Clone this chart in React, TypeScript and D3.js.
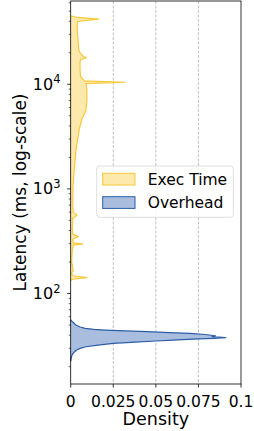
import React, { useEffect, useRef } from "react";
import * as d3 from "d3";

// latency (ms) / density pairs, top to bottom
const execLatency = [45000, 43500, 42000, 39800, 37000, 30000, 24000, 21000, 19500, 18500, 17900, 17300, 16500, 14000, 11800, 10800, 10450, 10150, 9600, 8800, 7100, 5700, 4600, 3700, 2400, 1500, 1000, 700, 600, 560, 520, 420, 370, 350, 330, 305, 298, 290, 240, 200, 175, 165, 158, 148, 142, 137, 133];
const execDensity = [0, 0.004, 0.0165, 0.004, 0.0038, 0.004, 0.0045, 0.0048, 0.006, 0.0075, 0.009, 0.006, 0.0055, 0.0055, 0.0058, 0.008, 0.032, 0.009, 0.0092, 0.0095, 0.0095, 0.009, 0.0065, 0.005, 0.0032, 0.002, 0.0013, 0.0012, 0.0015, 0.0037, 0.0012, 0.001, 0.0013, 0.0045, 0.0012, 0.0015, 0.007, 0.0014, 0.0008, 0.0006, 0.0012, 0.0015, 0.0006, 0.001, 0.0094, 0.001, 0];

const overLatency = [56, 53.4, 50, 47.9, 46.5, 45.5, 44.8, 43.9, 43.2, 42.3, 41.7, 40.6, 39.5, 38.7, 38.2, 37.8, 37.3, 36.8, 36.3, 35.8, 35.2, 34.4, 33.4, 32.2, 31, 29.9, 28.9, 27.5, 25.9, 24, 22.5];
const overDensity = [0, 0.0012, 0.003, 0.0055, 0.0085, 0.0135, 0.02, 0.032, 0.045, 0.058, 0.07, 0.079, 0.085, 0.083, 0.089, 0.0912, 0.084, 0.075, 0.066, 0.06, 0.05, 0.038, 0.025, 0.016, 0.009, 0.0055, 0.0035, 0.002, 0.0008, 0.0003, 0];

const xTicks = [0, 0.025, 0.05, 0.075, 0.1];
const xTickLabels = ["0", "0.025", "0.05", "0.075", "0.1"];
const yTicks = [100, 1000, 10000];
const yTickExp = ["2", "3", "4"];

const seriesNames = ["Exec Time", "Overhead"];
const seriesFill = ["#fde9ac", "#a9bedf"];
const seriesEdge = ["#f9c93a", "#2c5ca8"];

export default function App() {
    const ref = useRef<SVGSVGElement>(null);

    useEffect(() => {
        const svg = d3.select(ref.current);
        svg.selectAll("*").remove();

        const left = 70.7, right = 241, top = 1, bottom = 384;
        const font = "DejaVu Sans";

        const x = d3.scaleLinear().domain([0, 0.1]).range([left, right]);
        const y = d3.scaleLog().domain([13.66, 62500]).range([bottom, top]);

        // dashed grid
        svg.append("g")
            .selectAll("line")
            .data(xTicks.slice(1, -1))
            .enter().append("line")
            .attr("x1", d => x(d)).attr("x2", d => x(d))
            .attr("y1", top).attr("y2", bottom)
            .attr("stroke", "#b0b0b0")
            .attr("stroke-width", 0.8)
            .attr("stroke-dasharray", "3,1.5");

        const series = [
            { lat: execLatency, den: execDensity },
            { lat: overLatency, den: overDensity },
        ];

        series.forEach((s, k) => {
            const pts = s.lat.map((l, i) => [l, s.den[i]] as [number, number]);
            const area = d3.area<[number, number]>()
                .y(d => y(d[0]))
                .x0(x(0))
                .x1(d => x(d[1]));
            const line = d3.line<[number, number]>()
                .x(d => x(d[1]))
                .y(d => y(d[0]));
            svg.append("path")
                .attr("d", area(pts))
                .attr("fill", seriesFill[k]);
            svg.append("path")
                .attr("d", line(pts))
                .attr("fill", "none")
                .attr("stroke", seriesEdge[k])
                .attr("stroke-width", 1.2)
                .attr("stroke-linejoin", "round");
        });

        // frame
        svg.append("rect")
            .attr("x", left).attr("y", top)
            .attr("width", right - left).attr("height", bottom - top)
            .attr("fill", "none")
            .attr("stroke", "#000")
            .attr("stroke-width", 0.8);

        // x ticks
        const xt = svg.append("g");
        xTicks.forEach((t, i) => {
            xt.append("line")
                .attr("x1", x(t)).attr("x2", x(t))
                .attr("y1", bottom).attr("y2", bottom + 3.5)
                .attr("stroke", "#000").attr("stroke-width", 0.8);
            xt.append("text")
                .attr("x", x(t)).attr("y", 406.5)
                .attr("text-anchor", "middle")
                .attr("font-family", font).attr("font-size", 15.5)
                .text(xTickLabels[i]);
        });

        // y ticks, major and minor
        const yt = svg.append("g");
        const [lo, hi] = y.domain();
        for (let e = 1; e <= 4; e++) {
            for (let m = 1; m < 10; m++) {
                const v = m * Math.pow(10, e);
                if (v < lo || v > hi) continue;
                yt.append("line")
                    .attr("x1", left).attr("x2", left - (m === 1 ? 3.5 : 2))
                    .attr("y1", y(v)).attr("y2", y(v))
                    .attr("stroke", "#000")
                    .attr("stroke-width", m === 1 ? 0.8 : 0.6);
            }
        }
        yTicks.forEach((t, i) => {
            const txt = yt.append("text")
                .attr("x", 60.5).attr("y", y(t) + 5.5)
                .attr("text-anchor", "end")
                .attr("font-family", font).attr("font-size", 16);
            txt.append("tspan").text("10");
            txt.append("tspan")
                .attr("dy", -6.5)
                .attr("font-size", 11.5)
                .text(yTickExp[i]);
        });

        // axis labels
        svg.append("text")
            .attr("x", (left + right) / 2).attr("y", 425)
            .attr("text-anchor", "middle")
            .attr("font-family", font).attr("font-size", 17.5)
            .text("Density");
        svg.append("text")
            .attr("transform", `translate(26,${(top + bottom) / 2}) rotate(-90)`)
            .attr("text-anchor", "middle")
            .attr("font-family", font).attr("font-size", 17)
            .text("Latency (ms, log-scale)");

        // legend
        const lg = svg.append("g");
        lg.append("rect")
            .attr("x", 96.7).attr("y", 166)
            .attr("width", 136.6).attr("height", 51.3)
            .attr("rx", 3)
            .attr("fill", "#fff").attr("fill-opacity", 0.8)
            .attr("stroke", "#d5d5d5").attr("stroke-width", 0.8);
        seriesNames.forEach((name, i) => {
            const yy = 173.3 + i * 23.4;
            lg.append("rect")
                .attr("x", 102.7).attr("y", yy)
                .attr("width", 32.3).attr("height", 11.7)
                .attr("fill", seriesFill[i])
                .attr("stroke", seriesEdge[i]).attr("stroke-width", 1);
            lg.append("text")
                .attr("x", 147.7).attr("y", yy + 11.5)
                .attr("font-family", font).attr("font-size", 15.5)
                .text(name);
        });
    }, []);

    return (
        <svg ref={ref} width={254} height={431}
            style={{ position: "absolute", left: 0, top: 0, background: "#fff" }} />
    );
}
